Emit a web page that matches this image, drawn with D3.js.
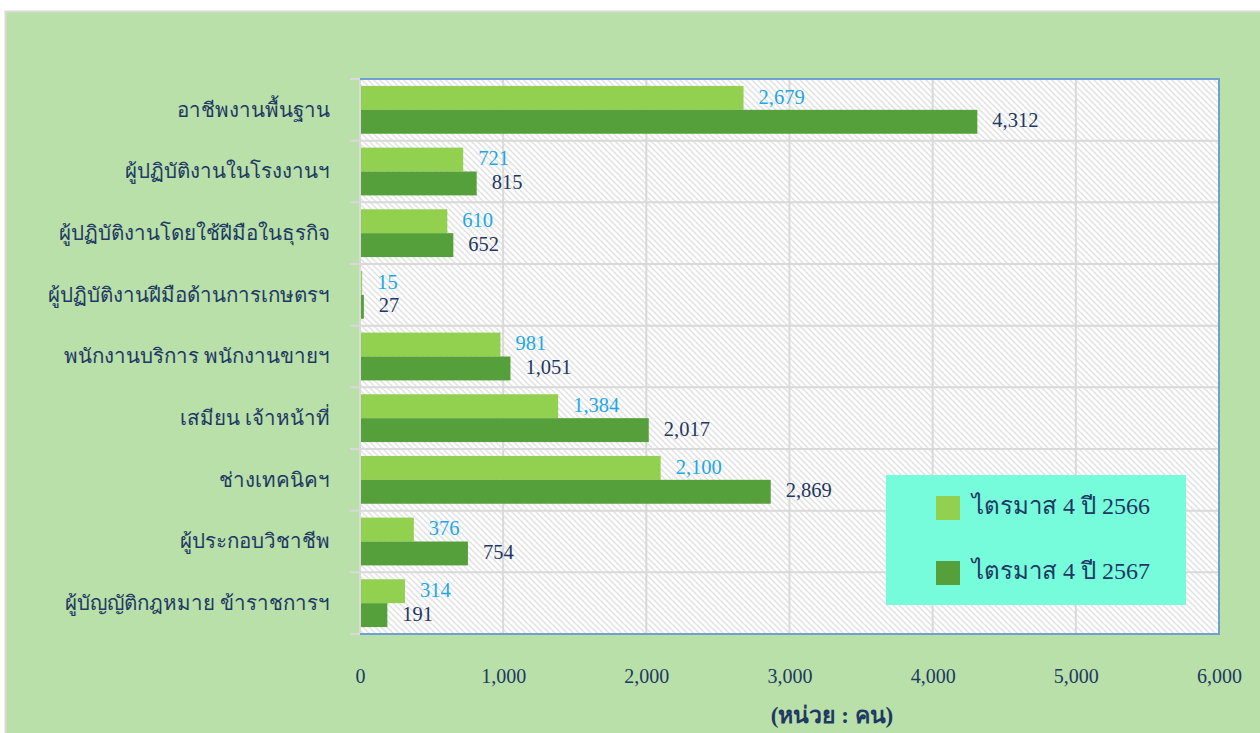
<!DOCTYPE html>
<html><head><meta charset="utf-8">
<script src="https://cdn.jsdelivr.net/npm/d3@7"></script>
<style>body{margin:0;background:#fff;}svg{display:block;}</style>
</head><body>
<script>
const categories = ["อาชีพงานพื้นฐาน","ผู้ปฏิบัติงานในโรงงานฯ","ผู้ปฏิบัติงานโดยใช้ฝีมือในธุรกิจ","ผู้ปฏิบัติงานฝีมือด้านการเกษตรฯ","พนักงานบริการ พนักงานขายฯ","เสมียน เจ้าหน้าที่","ช่างเทคนิคฯ","ผู้ประกอบวิชาชีพ","ผู้บัญญัติกฎหมาย ข้าราชการฯ"];
const seriesNames = ["ไตรมาส 4 ปี 2566","ไตรมาส 4 ปี 2567"];
const values2566 = [2679,721,610,15,981,1384,2100,376,314];
const values2567 = [4312,815,652,27,1051,2017,2869,754,191];
const xTicks = [0,1000,2000,3000,4000,5000,6000];
const axisTitle = "(หน่วย : คน)";

const W=1260,H=733;
const svg=d3.select("body").append("svg").attr("width",W).attr("height",H);
const defs=svg.append("defs");
const pat=defs.append("pattern").attr("id","hatch").attr("patternUnits","userSpaceOnUse").attr("width",6).attr("height",6);
pat.append("rect").attr("width",6).attr("height",6).attr("fill","#fff");
pat.append("path").attr("d","M-1,-1 L7,7 M-1,5 L1,7 M5,-1 L7,1").attr("stroke","#e2e2e2").attr("stroke-width",1.5);

svg.append("rect").attr("x",5.5).attr("y",11.5).attr("width",W).attr("height",H).attr("fill","#b8e0a8").attr("stroke","#d9d9d9").attr("stroke-width",2);

const m={l:360,r:1219,t:79,b:634};
const x=d3.scaleLinear().domain([0,6000]).range([m.l,m.r]);
const y=d3.scaleBand().domain(categories).range([m.t,m.b]);
const inner=d3.scaleBand().domain(seriesNames).range([0,y.bandwidth()]).paddingOuter(0.29).paddingInner(0);
const colors=["#92d050","#55a03a"];
const labelColors=["#1ea8e6","#1f3864"];

svg.append("rect").attr("x",m.l).attr("y",m.t).attr("width",m.r-m.l).attr("height",m.b-m.t).attr("fill","url(#hatch)");

// vertical gridlines
svg.append("g").selectAll("line").data(xTicks.slice(1)).join("line")
 .attr("x1",d=>x(d)).attr("x2",d=>x(d)).attr("y1",m.t).attr("y2",m.b)
 .attr("stroke","#d9d9d9").attr("stroke-width",2);
// horizontal category separators
svg.append("g").selectAll("line").data(categories).join("line")
 .attr("x1",m.l-10).attr("x2",m.r).attr("y1",d=>y(d)).attr("y2",d=>y(d))
 .attr("stroke","#d9d9d9").attr("stroke-width",2);
svg.append("line").attr("x1",m.l-10).attr("x2",m.l).attr("y1",m.b).attr("y2",m.b).attr("stroke","#d9d9d9").attr("stroke-width",2);

// bars
const data=[values2566,values2567];
data.forEach((vals,si)=>{
  const g=svg.append("g");
  g.selectAll("rect").data(categories).join("rect")
   .attr("x",x(0)).attr("y",d=>y(d)+inner(seriesNames[si]))
   .attr("width",(d,i)=>x(vals[i])-x(0)).attr("height",inner.bandwidth())
   .attr("fill",colors[si]);
  g.selectAll("text").data(categories).join("text")
   .attr("x",(d,i)=>x(vals[i])+15).attr("y",d=>y(d)+inner(seriesNames[si])+inner.bandwidth()/2+1)
   .attr("dominant-baseline","middle")
   .attr("font-family","'Liberation Serif',serif").attr("font-size",20.5)
   .attr("fill",labelColors[si]).text((d,i)=>d3.format(",")(vals[i]));
});

// plot borders
svg.append("line").attr("x1",m.l).attr("x2",m.l).attr("y1",m.t).attr("y2",m.b).attr("stroke","#d9d9d9").attr("stroke-width",2);
svg.append("path").attr("d",`M${m.l},${m.t}H${m.r}V${m.b}H${m.l}`).attr("fill","none").attr("stroke","#6fa0d0").attr("stroke-width",2);

// category labels
svg.append("g").selectAll("text").data(categories).join("text")
 .attr("x",330).attr("y",d=>y(d)+y.bandwidth()/2+2)
 .attr("text-anchor","end").attr("dominant-baseline","middle")
 .attr("font-family","'Liberation Serif',serif").attr("font-size",20.5)
 .attr("fill","#1f3864").text(d=>d);

// x axis tick labels
const xAxis=d3.axisBottom(x).tickValues(xTicks).tickFormat(d3.format(",")).tickSize(0).tickPadding(0);
const ax=svg.append("g").attr("transform",`translate(0,${m.b+35})`).call(xAxis);
ax.select(".domain").remove();
ax.selectAll("text").attr("font-family","'Liberation Serif',serif").attr("font-size",20).attr("fill","#1f3864");

svg.append("text").attr("x",832).attr("y",723).attr("text-anchor","middle")
 .attr("font-family","'Liberation Serif',serif").attr("font-weight","bold").attr("font-size",23)
 .attr("fill","#1f3864").text(axisTitle);

// legend
const lg=svg.append("g");
lg.append("rect").attr("x",886).attr("y",475).attr("width",300).attr("height",130).attr("fill","#76fbdb");
seriesNames.forEach((s,i)=>{
  lg.append("rect").attr("x",936).attr("y",496+i*65).attr("width",24).attr("height",24).attr("fill",colors[i]);
  lg.append("text").attr("x",972).attr("y",508+i*65).attr("dominant-baseline","middle")
   .attr("font-family","'Liberation Serif',serif").attr("font-size",24).attr("fill","#1f3864").text(s);
});
</script>
</body></html>
